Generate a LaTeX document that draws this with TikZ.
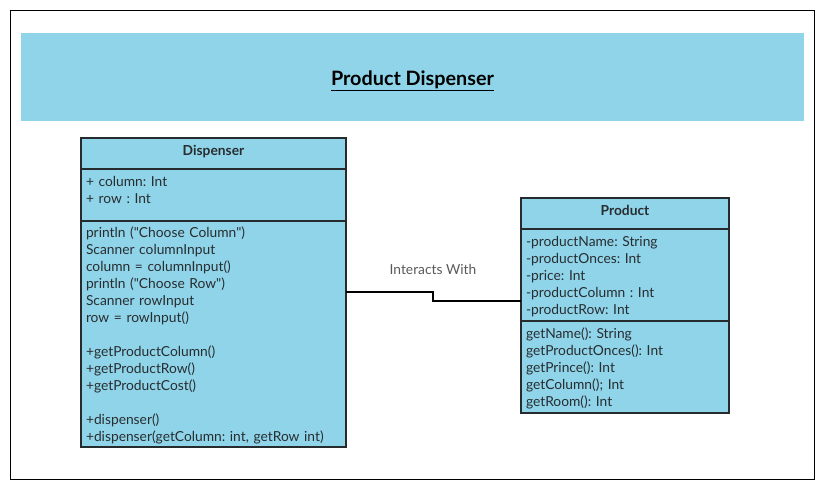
\documentclass[tikz,border=0pt]{standalone}
\usepackage{fontspec}
\setmainfont{Lato}
\frenchspacing
\usetikzlibrary{positioning}
\definecolor{umlblue}{RGB}{143,212,233}
\definecolor{umledge}{RGB}{38,43,46}
\definecolor{umltext}{RGB}{40,45,48}
\newcommand{\qt}{\textquotedbl}
\tikzset{
    classhead/.style={
        draw=umledge,line width=1.5pt,fill=umlblue,inner sep=0pt,outer sep=0pt,
        text=umltext,text depth=6pt,font=\bfseries\fontsize{13.8}{15}\selectfont
    },
    classpart/.style={
        draw=umledge,line width=1.5pt,fill=umlblue,inner xsep=5pt,inner ysep=0pt,outer sep=0pt,
        text=umltext,align=left,text width=#1,text height=14pt,font=\fontsize{13.8}{17}\selectfont
    }
}

\begin{document}
\begin{tikzpicture}[x=1pt,y=-1pt]
\useasboundingbox (0,0) rectangle (824,490);
\draw[line width=0.8pt] (10,10) rectangle (814,479);
\node[fill=umlblue,minimum width=783pt,minimum height=88pt,inner sep=0pt] (band) at (412.5,77) {};
\node[font=\bfseries\fontsize{19.8}{22}\selectfont] (title) at ([yshift=-3.5pt]band.center) {\underline{Product Dispenser}};
\node[classhead,anchor=north west,minimum width=265pt,minimum height=31pt] (dsp-name) at (81,138) {Dispenser};
\node[classpart=255pt,below=0pt of dsp-name,minimum height=52pt] (dsp-attr) {+ column: Int\\+ row : Int\\[-3pt]\mbox{}};
\node[classpart=255pt,below=0pt of dsp-attr,minimum height=226pt] (dsp-ops) {println (\qt Choose Column\qt)\\Scanner columnInput\\column = columnInput()\\println (\qt Choose Row\qt)\\Scanner rowInput\\row = rowInput()\\[17pt]+getProductColumn()\\+getProductRow()\\+getProductCost()\\[17pt]+dispenser()\\+dispenser(getColumn: int, getRow int)};
\node[classhead,anchor=north west,minimum width=208pt,minimum height=31pt] (prd-name) at (521,198) {Product};
\node[classpart=198pt,below=0pt of prd-name,minimum height=92pt] (prd-attr) {-productName: String\\-productOnces: Int\\-price: Int\\-productColumn : Int\\-productRow: Int};
\node[classpart=198pt,below=0pt of prd-attr,minimum height=92pt] (prd-ops) {getName(): String\\getProductOnces(): Int\\getPrince(): Int\\getColumn(); Int\\getRoom(): Int};
\draw[line width=1.5pt] ([yshift=42pt]dsp-ops.east) -- ++(87,0) node[above=13pt,text=black!65,font=\fontsize{13.8}{15}\selectfont] (assoc) {Interacts With} |- ([yshift=-26pt]prd-attr.west);
\end{tikzpicture}
\end{document}
